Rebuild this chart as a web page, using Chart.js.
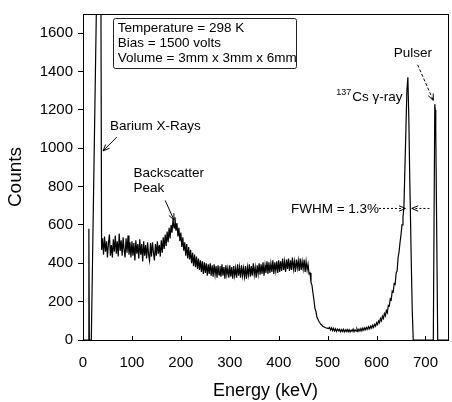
<!DOCTYPE html>
<html>
<head>
<meta charset="utf-8">
<script src="https://cdn.jsdelivr.net/npm/chart.js@4.4.0/dist/chart.umd.min.js"></script>
<style>
  html, body { margin: 0; padding: 0; background: #fff; }
  #wrap { width: 452px; height: 402px; }
</style>
</head>
<body>
<div id="wrap"><canvas id="myChart" width="452" height="402"></canvas></div>
<script>
// spectrum: energy (keV) and counts
const energy = [
  0, 11, 12, 13, 17, 29, 33, 36, 38,
  40, 42, 44, 46, 48, 50, 52, 54, 56, 58,
  60, 62, 64, 66, 68, 70, 72, 74, 76, 78,
  80, 82, 84, 86, 88, 90, 92, 94, 96, 98,
  100, 102, 104, 106, 108, 110, 112, 114, 116, 118,
  120, 122, 124, 126, 128, 130, 132, 134, 136, 138,
  140, 142, 144, 146, 148, 150, 152, 154, 156, 158,
  160, 162, 164, 166, 168, 170, 172, 174, 176, 178,
  180, 182, 184, 186, 188, 190, 192, 194, 196, 198,
  200, 202, 204, 206, 208, 210, 212, 214, 216, 218,
  220, 222, 224, 226, 228, 230, 232, 234, 236, 238,
  240, 242, 244, 246, 248, 250, 252, 254, 256, 258,
  260, 262, 264, 266, 268, 270, 272, 274, 276, 278,
  280, 282, 284, 286, 288, 290, 292, 294, 296, 298,
  300, 302, 304, 306, 308, 310, 312, 314, 316, 318,
  320, 322, 324, 326, 328, 330, 332, 334, 336, 338,
  340, 342, 344, 346, 348, 350, 352, 354, 356, 358,
  360, 362, 364, 366, 368, 370, 372, 374, 376, 378,
  380, 382, 384, 386, 388, 390, 392, 394, 396, 398,
  400, 402, 404, 406, 408, 410, 412, 414, 416, 418,
  420, 422, 424, 426, 428, 430, 432, 434, 436, 438,
  440, 442, 444, 446, 448, 450, 452, 454, 456, 458,
  460, 462, 464, 466, 468, 470, 472, 474, 476, 478,
  480, 482, 484, 486, 488, 490, 493, 496, 499, 502,
  504, 506, 508, 510, 512, 514, 516, 518, 520, 522,
  524, 526, 528, 530, 532, 534, 536, 538, 540, 542,
  544, 546, 548, 550, 552, 554, 556, 558, 560, 562,
  564, 566, 568, 570, 572, 574, 576, 578, 580, 582,
  584, 586, 588, 590, 592, 594, 596, 598, 600, 602,
  604, 606, 608, 610, 612, 614, 616, 618, 620, 622,
  624, 626, 628, 630, 632, 634, 636, 638, 640, 642,
  644, 646, 648, 650, 652, 654, 656, 658, 660, 662,
  664, 666, 668, 669, 671, 673, 675,
  716, 719, 720, 721, 725, 746
];
const counts = [
  0, 0, 580, 0, 0, 2000, 2800, 2400, 470,
  530, 445, 540, 460, 515, 430, 505, 550, 440, 495,
  430, 525, 460, 545, 450, 515, 435, 555, 465, 520,
  440, 535, 470, 430, 530, 455, 545, 445, 510, 430,
  515, 440, 505, 415, 520, 450, 500, 425, 525, 445,
  500, 410, 515, 440, 495, 425, 510, 445, 415, 505,
  435, 510, 455, 415, 500, 440, 515, 450, 495, 435,
  520, 455, 535, 475, 550, 490, 565, 510, 585, 530,
  600, 560, 630, 585, 640, 570, 610, 540, 585, 515,
  560, 485, 535, 465, 510, 440, 500, 425, 485, 420,
  470, 400, 455, 385, 445, 380, 435, 370, 425, 365,
  415, 355, 410, 345, 405, 350, 400, 335, 395, 345,
  400, 335, 390, 330, 395, 340, 385, 325, 390, 340,
  385, 330, 395, 335, 380, 320, 390, 340, 375, 325,
  390, 330, 380, 320, 385, 335, 375, 325, 395, 335,
  380, 325, 390, 335, 375, 330, 385, 320, 380, 340,
  395, 330, 385, 335, 400, 340, 380, 325, 390, 345,
  400, 340, 395, 345, 405, 335, 390, 350, 410, 345,
  405, 350, 400, 355, 415, 345, 405, 360, 410, 350,
  415, 355, 410, 360, 425, 365, 410, 355, 420, 370,
  425, 360, 415, 365, 430, 370, 410, 355, 420, 375,
  415, 360, 425, 365, 410, 370, 420, 355, 410, 365,
  395, 345, 350, 300, 285, 245, 210, 165, 150, 120,
  110, 98, 90, 82, 78, 72, 68, 64, 62, 60,
  66, 52, 63, 49, 61, 47, 58, 45, 57, 48,
  56, 43, 54, 45, 56, 42, 53, 44, 55, 43,
  54, 42, 52, 45, 57, 43, 54, 46, 58, 45,
  57, 47, 60, 48, 62, 51, 64, 53, 66, 56,
  70, 58, 73, 62, 77, 66, 82, 72, 90, 80,
  100, 90, 112, 100, 124, 112, 138, 126, 154, 142,
  180, 176, 215, 210, 255, 250, 295, 290, 350, 360,
  430, 460, 510, 550, 600, 640, 700, 900, 1100, 1300,
  1370, 1150, 820, 690, 400, 150, 0,
  0, 1230, 1200, 1100, 0, 0
];
const xTicks = [0, 100, 200, 300, 400, 500, 600, 700];
const yTicks = [0, 200, 400, 600, 800, 1000, 1200, 1400, 1600];
const infoLines = ['Temperature = 298 K', 'Bias = 1500 volts', 'Volume = 3mm x 3mm x 6mm'];

const FONT = "'Liberation Sans', Arial, sans-serif";

// labels and arrows, placed in data units (keV, counts)
const notePlugin = {
  id: 'notes',
  afterDraw(chart) {
    const ctx = chart.ctx;
    const xs = chart.scales.x, ys = chart.scales.y;
    const X = v => xs.getPixelForValue(v);
    const Y = v => ys.getPixelForValue(v);
    const area = chart.chartArea;

    ctx.save();
    // frame
    ctx.strokeStyle = '#000';
    ctx.lineWidth = 1;
    ctx.strokeRect(area.left + 0.5, area.top + 0.5, area.right - area.left, area.bottom - area.top);

    // inward x ticks
    xTicks.forEach(v => {
      const px = Math.round(X(v)) + 0.5;
      ctx.beginPath();
      ctx.moveTo(px, area.bottom);
      ctx.lineTo(px, area.bottom - 4);
      ctx.stroke();
    });

    // info box
    ctx.strokeStyle = '#222';
    const bx = X(60.7), by = Y(1677), bw = X(435) - bx, bh = Y(1417) - by;
    ctx.beginPath();
    ctx.roundRect(Math.round(bx) + 0.5, Math.round(by) + 0.5, Math.round(bw), Math.round(bh), 2);
    ctx.stroke();
    ctx.fillStyle = '#000';
    ctx.font = '13.5px ' + FONT;
    ctx.textBaseline = 'middle';
    ctx.textAlign = 'left';
    infoLines.forEach((t, i) => ctx.fillText(t, X(71), Y(1626 - i * 78)));

    const arrow = (x1, y1, x2, y2, dash) => {
      ctx.save();
      ctx.setLineDash(dash || []);
      ctx.beginPath();
      ctx.moveTo(x1, y1);
      ctx.lineTo(x2, y2);
      ctx.stroke();
      ctx.setLineDash([]);
      const a = Math.atan2(y2 - y1, x2 - x1);
      const h = 7;
      ctx.beginPath();
      ctx.moveTo(x2 - h * Math.cos(a - 0.4), y2 - h * Math.sin(a - 0.4));
      ctx.lineTo(x2, y2);
      ctx.lineTo(x2 - h * Math.cos(a + 0.4), y2 - h * Math.sin(a + 0.4));
      ctx.stroke();
      ctx.restore();
    };

    ctx.strokeStyle = '#000';
    ctx.fillText('Barium X-Rays', X(55), Y(1115));
    arrow(X(69), Y(1058), X(41), Y(986));

    ctx.fillText('Backscatter', X(103), Y(867));
    ctx.fillText('Peak', X(103), Y(790));
    arrow(X(168), Y(728), X(186), Y(625));

    ctx.fillText('FWHM = 1.3%', X(425), Y(681));
    arrow(X(605), Y(686), X(659), Y(686), [2, 2]);
    arrow(X(708), Y(686), X(672), Y(686), [2, 2]);

    // 137Cs gamma-ray label, right aligned
    const main = 'Cs \u03b3-ray';
    const mw = ctx.measureText(main).width;
    const rx = X(653);
    ctx.fillText(main, rx - mw, Y(1264));
    ctx.font = '9px ' + FONT;
    const sw = ctx.measureText('137').width;
    ctx.fillText('137', rx - mw - sw - 1, Y(1290));

    ctx.font = '13.5px ' + FONT;
    ctx.textAlign = 'center';
    ctx.fillText('Pulser', X(674), Y(1497));
    arrow(X(684), Y(1435), X(716), Y(1249), [3, 2]);
    ctx.restore();
  }
};

window.addEventListener('load', function () {
  const ctx = document.getElementById('myChart').getContext('2d');
  new Chart(ctx, {
    type: 'line',
    data: {
      datasets: [{
        data: energy.map((e, i) => ({ x: e, y: counts[i] })),
        borderColor: '#000',
        borderWidth: 1.2,
        pointRadius: 0,
        tension: 0,
        fill: false
      }]
    },
    options: {
      responsive: false,
      animation: false,
      devicePixelRatio: 1,
      layout: { padding: { top: 10, right: 0, left: 0, bottom: 0 } },
      plugins: { legend: { display: false }, tooltip: { enabled: false } },
      scales: {
        x: {
          type: 'linear',
          min: 0,
          max: 746,
          afterBuildTicks: s => { s.ticks = xTicks.map(v => ({ value: v })); },
          afterFit: s => { s.height = 62; },
          grid: { display: true, drawOnChartArea: false, drawTicks: false },
          border: { color: '#000', width: 1 },
          ticks: { color: '#000', padding: 14, maxRotation: 0, callback: v => String(v), font: { family: FONT, size: 15 } },
          title: { display: true, text: 'Energy (keV)', color: '#000', padding: { top: 0, bottom: 0 }, font: { family: FONT, size: 18 } }
        },
        y: {
          type: 'linear',
          min: 0,
          max: 1700,
          afterBuildTicks: s => { s.ticks = yTicks.map(v => ({ value: v })); },
          afterFit: s => { s.width = 83; },
          grid: { display: true, drawOnChartArea: false, drawTicks: true, tickLength: 5, color: '#000' },
          border: { color: '#000', width: 1 },
          ticks: { color: '#000', padding: 5, callback: v => String(v), font: { family: FONT, size: 15 } },
          title: { display: true, text: 'Counts', color: '#000', padding: { top: 4, bottom: 0 }, font: { family: FONT, size: 19 } }
        }
      }
    },
    plugins: [notePlugin]
  });
});
</script>
</body>
</html>
